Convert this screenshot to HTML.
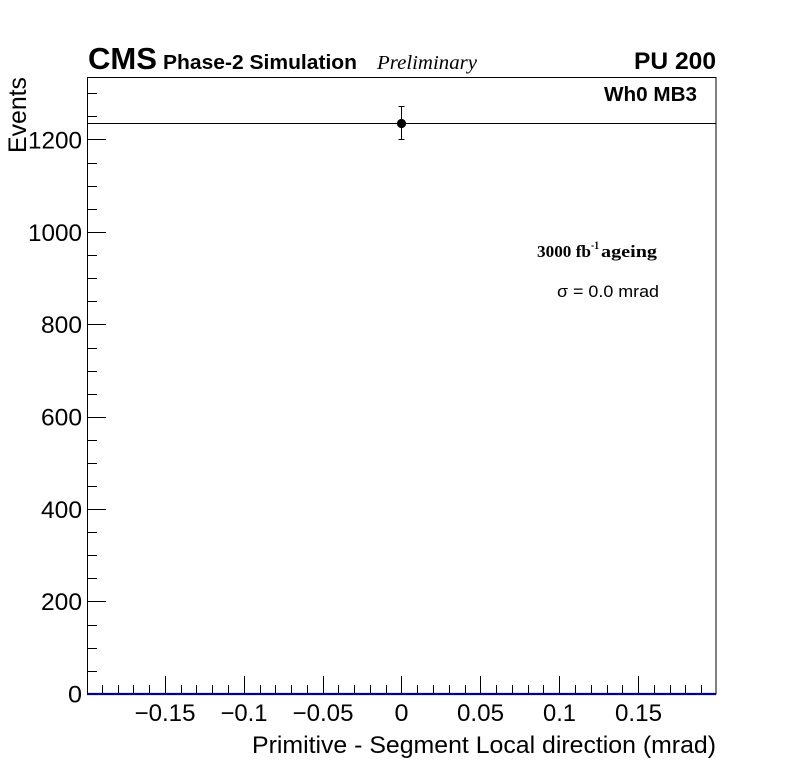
<!DOCTYPE html>
<html><head><meta charset="utf-8"><style>
html,body{margin:0;padding:0;background:#fff;}
svg{display:block;}
text{font-family:"Liberation Sans",Arial,sans-serif;fill:#000;}
.serif{font-family:"Liberation Serif","Times New Roman",serif;}
</style></head><body>
<svg width="796" height="772" viewBox="0 0 796 772" xmlns="http://www.w3.org/2000/svg">
<rect x="0" y="0" width="796" height="772" fill="#fff"/>
<g stroke="#000" stroke-width="1" shape-rendering="crispEdges" fill="none">
<rect x="87.5" y="77.5" width="628.5" height="616.5"/>
<path d="M102.5 694V685M118.5 694V685M133.5 694V685M149.5 694V685M165.5 694V676M181.5 694V685M196.5 694V685M212.5 694V685M228.5 694V685M244.5 694V676M260.5 694V685M275.5 694V685M291.5 694V685M307.5 694V685M323.5 694V676M338.5 694V685M354.5 694V685M370.5 694V685M386.5 694V685M401.5 694V676M417.5 694V685M433.5 694V685M449.5 694V685M465.5 694V685M480.5 694V676M496.5 694V685M512.5 694V685M528.5 694V685M543.5 694V685M559.5 694V676M575.5 694V685M591.5 694V685M607.5 694V685M622.5 694V685M638.5 694V676M654.5 694V685M670.5 694V685M685.5 694V685M701.5 694V685"/>
<path d="M87 671.5H97M87 648.5H97M87 625.5H97M87 601.5H106M87 578.5H97M87 555.5H97M87 532.5H97M87 509.5H106M87 486.5H97M87 463.5H97M87 440.5H97M87 417.5H106M87 394.5H97M87 371.5H97M87 348.5H97M87 324.5H106M87 301.5H97M87 278.5H97M87 255.5H97M87 232.5H106M87 209.5H97M87 186.5H97M87 163.5H97M87 139.5H106M87 116.5H97M87 93.5H97"/>
<path d="M88 123.5H716"/>
</g>
<path d="M87 694H716" stroke="#00008c" stroke-width="2.2" fill="none"/>
<g stroke="#000" stroke-width="1" fill="none" shape-rendering="crispEdges">
<path d="M401.5 106V140M398.5 106.5H404.5M398.5 139.5H404.5"/>
</g>
<circle cx="401.5" cy="123.5" r="4.6" fill="#000"/>

<g font-size="24" text-anchor="end">
<text x="82" y="702.5" textLength="14" lengthAdjust="spacingAndGlyphs">0</text>
<text x="82" y="610.2" textLength="41" lengthAdjust="spacingAndGlyphs">200</text>
<text x="82" y="517.9" textLength="41" lengthAdjust="spacingAndGlyphs">400</text>
<text x="82" y="425.6" textLength="41" lengthAdjust="spacingAndGlyphs">600</text>
<text x="82" y="333.2" textLength="41" lengthAdjust="spacingAndGlyphs">800</text>
<text x="82" y="240.8" textLength="54" lengthAdjust="spacingAndGlyphs">1000</text>
<text x="82" y="148.5" textLength="54" lengthAdjust="spacingAndGlyphs">1200</text>
</g>
<g font-size="24">
<text x="134.5" y="721" textLength="61" lengthAdjust="spacingAndGlyphs">−0.15</text>
<text x="220.5" y="721" textLength="47" lengthAdjust="spacingAndGlyphs">−0.1</text>
<text x="292.5" y="721" textLength="61" lengthAdjust="spacingAndGlyphs">−0.05</text>
<text x="394.5" y="721" textLength="14" lengthAdjust="spacingAndGlyphs">0</text>
<text x="457" y="721" textLength="47" lengthAdjust="spacingAndGlyphs">0.05</text>
<text x="543" y="721" textLength="33" lengthAdjust="spacingAndGlyphs">0.1</text>
<text x="615" y="721" textLength="47" lengthAdjust="spacingAndGlyphs">0.15</text>
</g>
<text x="252" y="753" font-size="24" textLength="464" lengthAdjust="spacingAndGlyphs">Primitive - Segment Local direction (mrad)</text>
<text transform="translate(26,77) rotate(-90)" font-size="25" text-anchor="end" textLength="76" lengthAdjust="spacingAndGlyphs">Events</text>

<text x="88" y="69" font-size="31" font-weight="bold" textLength="69" lengthAdjust="spacingAndGlyphs">CMS</text>
<text x="163" y="69" font-size="20" font-weight="bold" textLength="194" lengthAdjust="spacingAndGlyphs">Phase-2 Simulation</text>
<text class="serif" x="377" y="69" font-size="20" font-style="italic" textLength="100" lengthAdjust="spacingAndGlyphs">Preliminary</text>
<text x="634" y="69" font-size="24" font-weight="bold" textLength="82" lengthAdjust="spacingAndGlyphs">PU 200</text>
<text x="604" y="101" font-size="20" font-weight="bold" textLength="93" lengthAdjust="spacingAndGlyphs">Wh0 MB3</text>

<text class="serif" x="537" y="257" font-size="17" font-weight="bold" textLength="54" lengthAdjust="spacingAndGlyphs">3000 fb</text>
<text class="serif" x="591" y="249" font-size="12" font-weight="bold" textLength="8" lengthAdjust="spacingAndGlyphs">-1</text>
<text class="serif" x="601" y="257" font-size="17" font-weight="bold" textLength="56" lengthAdjust="spacingAndGlyphs">ageing</text>
<text x="557" y="297" font-size="17" textLength="102" lengthAdjust="spacingAndGlyphs">σ = 0.0 mrad</text>
</svg>
</body></html>
